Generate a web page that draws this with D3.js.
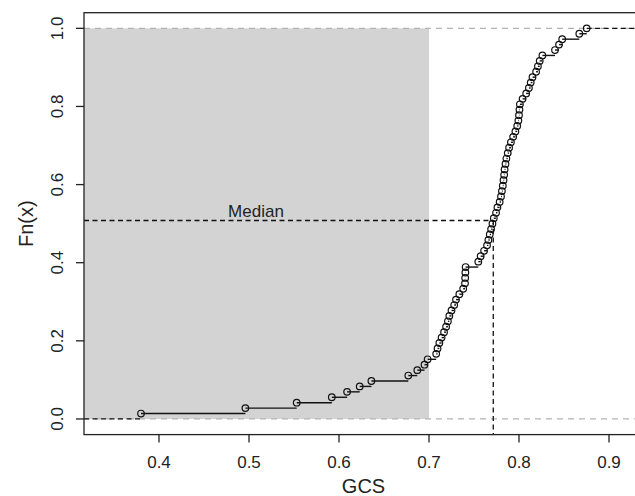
<!DOCTYPE html>
<html>
<head>
<meta charset="utf-8">
<script src="https://cdn.jsdelivr.net/npm/d3@7"></script>
<style>
  body { margin: 0; background: #fff; }
  text { font-family: "Liberation Sans", Arial, sans-serif; fill: #222; }
</style>
</head>
<body>
<div id="chart"></div>
<script>
// GCS values (sorted), one circle per value; Fn steps by 1/72
var gcs = [0.380, 0.496, 0.553, 0.592, 0.609, 0.623, 0.636, 0.677, 0.687, 0.695,
  0.6985, 0.7080, 0.7095, 0.7115, 0.714, 0.7167, 0.719, 0.721, 0.7226, 0.725,
  0.728, 0.730, 0.7337, 0.738, 0.7400, 0.7402, 0.7404, 0.7407, 0.7548, 0.7574,
  0.7612, 0.7645, 0.766, 0.7675, 0.769, 0.7705, 0.772, 0.7745, 0.776, 0.7785,
  0.7800, 0.781, 0.782, 0.7828, 0.7835, 0.784, 0.785, 0.786, 0.7875, 0.789,
  0.791, 0.7935, 0.796, 0.798, 0.7993, 0.800, 0.8005, 0.801, 0.804, 0.808,
  0.811, 0.813, 0.815, 0.819, 0.821, 0.823, 0.826, 0.840, 0.8445, 0.848,
  0.867, 0.8752];
var xTicks = [0.4, 0.5, 0.6, 0.7, 0.8, 0.9];
var yTicks = [0.0, 0.2, 0.4, 0.6, 0.8, 1.0];
var medianX = 0.7714, medianY = 0.508;
var shadeTo = 0.7;

var width = 635, height = 496;
var svg = d3.select("#chart").append("svg")
  .attr("width", width)
  .attr("height", height);

var x = d3.scaleLinear().domain([0.4, 0.9]).range([159, 609]);
var y = d3.scaleLinear().domain([-0.04, 1.04]).range([434.6, 12.7]);
var boxL = 84, boxR = 643, boxT = y(1.04), boxB = y(-0.04);

var n = gcs.length;
var pts = gcs.map(function(v, i) { return [v, (i + 1) / n]; });

// shaded region
svg.append("rect")
  .attr("x", boxL)
  .attr("y", y(1))
  .attr("width", x(shadeTo) - boxL)
  .attr("height", y(0) - y(1))
  .attr("fill", "#d3d3d3");

// gray reference lines at 0 and 1
[0, 1].forEach(function(v) {
  svg.append("line")
    .attr("x1", boxL).attr("x2", boxR)
    .attr("y1", y(v)).attr("y2", y(v))
    .attr("stroke", "#b3b3b3")
    .attr("stroke-width", 1.2)
    .attr("stroke-dasharray", "6,5");
});

// median lines
svg.append("line")
  .attr("x1", boxL).attr("x2", x(medianX))
  .attr("y1", y(medianY)).attr("y2", y(medianY))
  .attr("stroke", "#111").attr("stroke-width", 1.3)
  .attr("stroke-dasharray", "5,3.5");
svg.append("line")
  .attr("x1", x(medianX)).attr("x2", x(medianX))
  .attr("y1", y(medianY)).attr("y2", boxB)
  .attr("stroke", "#111").attr("stroke-width", 1.3)
  .attr("stroke-dasharray", "5,3.5");
svg.append("text")
  .attr("x", 256)
  .attr("y", y(medianY) - 4)
  .attr("text-anchor", "middle")
  .attr("font-size", 17)
  .text("Median");

// step segments
for (var i = 0; i < n - 1; i++) {
  svg.append("line")
    .attr("x1", x(pts[i][0])).attr("x2", x(pts[i + 1][0]))
    .attr("y1", y(pts[i][1])).attr("y2", y(pts[i][1]))
    .attr("stroke", "#111").attr("stroke-width", 1.4);
}
// extensions
svg.append("line")
  .attr("x1", boxL).attr("x2", x(pts[0][0]))
  .attr("y1", y(0)).attr("y2", y(0))
  .attr("stroke", "#111").attr("stroke-width", 1.3)
  .attr("stroke-dasharray", "5,3.5");
svg.append("line")
  .attr("x1", x(pts[n - 1][0])).attr("x2", boxR)
  .attr("y1", y(1)).attr("y2", y(1))
  .attr("stroke", "#111").attr("stroke-width", 1.3)
  .attr("stroke-dasharray", "5,3.5");

// points
svg.selectAll("circle.pt")
  .data(pts)
  .enter().append("circle")
  .attr("class", "pt")
  .attr("cx", function(d) { return x(d[0]); })
  .attr("cy", function(d) { return y(d[1]); })
  .attr("r", 3.3)
  .attr("fill", "none")
  .attr("stroke", "#111")
  .attr("stroke-width", 1.2);

// box
svg.append("rect")
  .attr("x", boxL).attr("y", boxT)
  .attr("width", boxR - boxL).attr("height", boxB - boxT)
  .attr("fill", "none")
  .attr("stroke", "#222")
  .attr("stroke-width", 1.3);

// x axis
var xAxis = svg.append("g");
xTicks.forEach(function(t) {
  xAxis.append("line")
    .attr("x1", x(t)).attr("x2", x(t))
    .attr("y1", boxB).attr("y2", boxB + 8)
    .attr("stroke", "#222").attr("stroke-width", 1.3);
  xAxis.append("text")
    .attr("x", x(t)).attr("y", 468)
    .attr("text-anchor", "middle")
    .attr("font-size", 17)
    .text(t.toFixed(1));
});
svg.append("text")
  .attr("x", (boxL + boxR) / 2).attr("y", 493)
  .attr("text-anchor", "middle")
  .attr("font-size", 20)
  .text("GCS");

// y axis
var yAxis = svg.append("g");
yTicks.forEach(function(t) {
  yAxis.append("line")
    .attr("x1", boxL - 8).attr("x2", boxL)
    .attr("y1", y(t)).attr("y2", y(t))
    .attr("stroke", "#222").attr("stroke-width", 1.3);
  yAxis.append("text")
    .attr("transform", "translate(63," + y(t) + ") rotate(-90)")
    .attr("text-anchor", "middle")
    .attr("font-size", 17)
    .text(t.toFixed(1));
});
svg.append("text")
  .attr("transform", "translate(33," + (boxT + boxB) / 2 + ") rotate(-90)")
  .attr("text-anchor", "middle")
  .attr("font-size", 20)
  .text("Fn(x)");
</script>
</body>
</html>
